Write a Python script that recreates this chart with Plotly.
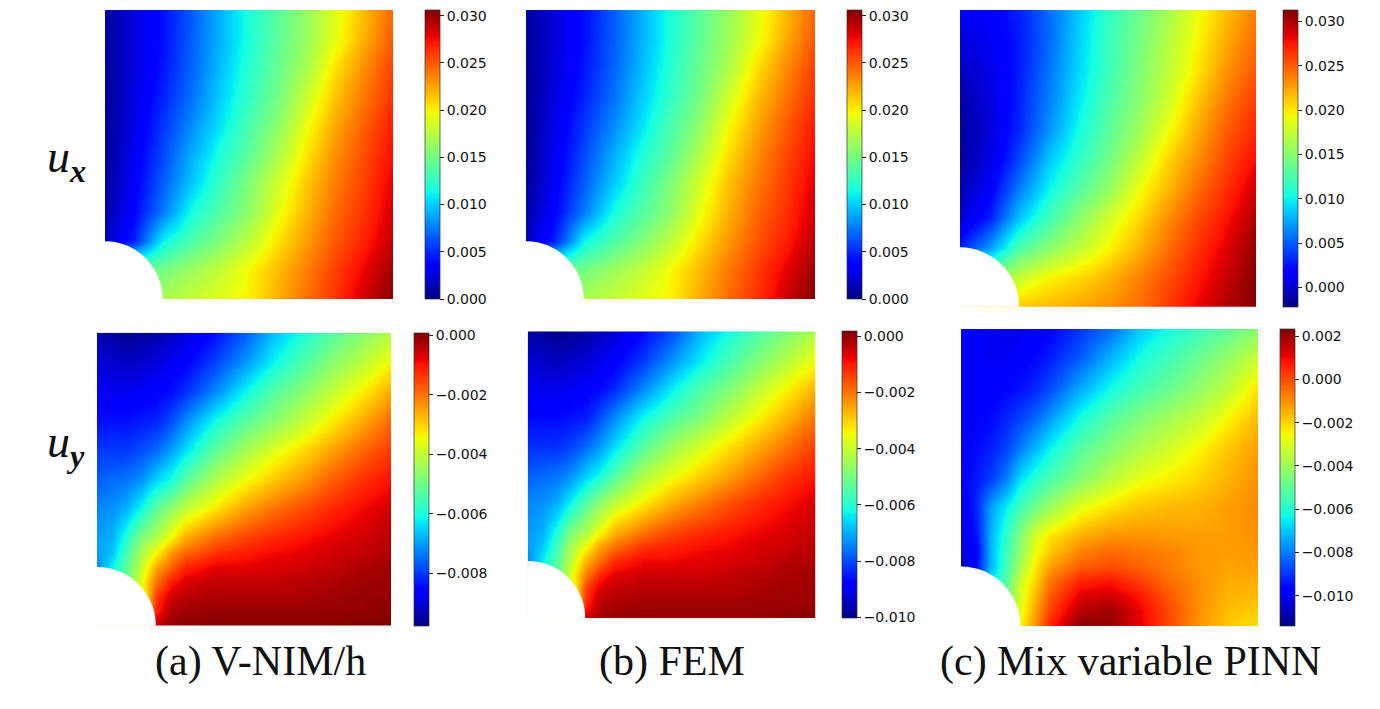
import numpy as np
import plotly.graph_objects as go

W, H = 1380, 709

# Field samples (rows top to bottom, columns left to right), units of 1e-4
grid_ux = [0.0, 0.1, 0.2, 0.3, 0.4, 0.5, 0.6, 0.7, 0.8, 0.9, 1.0]
grid_uy_x = [0.0, 0.05, 0.1, 0.15, 0.2, 0.25, 0.3, 0.4, 0.5, 0.6, 0.7, 0.8, 0.9, 1.0]
grid_uy_y = [0.0, 0.1, 0.2, 0.3, 0.4, 0.5, 0.6, 0.7, 0.75, 0.8, 0.85, 0.9, 0.95, 1.0]

ux_vnim = [
 [8, 24, 42, 65, 92, 118, 140, 163, 190, 217, 245],
 [7, 24, 42, 66, 92, 118, 142, 165, 192, 222, 250],
 [6, 24, 44, 68, 95, 122, 146, 170, 205, 233, 258],
 [5, 26, 48, 72, 100, 126, 150, 183, 215, 240, 263],
 [5, 28, 54, 80, 107, 135, 160, 195, 224, 248, 270],
 [5, 31, 60, 90, 118, 142, 172, 205, 232, 254, 275],
 [7, 34, 66, 98, 128, 155, 185, 214, 238, 258, 280],
 [10, 38, 75, 115, 138, 160, 193, 220, 244, 262, 285],
 [16, 48, 112, 135, 155, 178, 205, 228, 250, 268, 290],
 [140, 150, 150, 165, 180, 198, 218, 238, 258, 278, 298],
 [160, 170, 172, 180, 190, 200, 222, 243, 262, 285, 305],
]
ux_fem = [
 [8, 24, 42, 65, 92, 118, 140, 163, 190, 218, 246],
 [7, 24, 42, 66, 92, 118, 142, 166, 193, 223, 251],
 [6, 24, 44, 68, 95, 122, 146, 171, 206, 234, 259],
 [5, 26, 48, 72, 100, 126, 150, 184, 216, 241, 264],
 [5, 28, 54, 80, 107, 135, 160, 196, 225, 249, 271],
 [5, 31, 60, 90, 118, 142, 172, 206, 233, 255, 276],
 [7, 34, 66, 98, 128, 155, 185, 215, 239, 259, 281],
 [10, 38, 75, 115, 138, 160, 193, 221, 245, 263, 286],
 [16, 48, 112, 135, 155, 178, 205, 229, 251, 269, 291],
 [140, 150, 150, 165, 180, 198, 218, 239, 259, 279, 299],
 [160, 170, 172, 180, 190, 200, 222, 244, 263, 286, 306],
]
ux_pinn = [
 [12, 16, 30, 55, 85, 115, 138, 162, 190, 215, 238],
 [5, 12, 28, 55, 88, 118, 142, 168, 195, 222, 245],
 [-2, 8, 28, 58, 90, 120, 146, 172, 200, 230, 252],
 [-10, 5, 30, 62, 95, 125, 150, 178, 212, 240, 262],
 [-14, 4, 32, 68, 103, 132, 158, 190, 222, 250, 270],
 [-13, 6, 42, 85, 113, 140, 172, 206, 232, 258, 278],
 [-8, 16, 60, 100, 128, 154, 190, 216, 244, 266, 290],
 [2, 30, 85, 122, 150, 180, 205, 232, 256, 276, 300],
 [30, 70, 125, 150, 172, 195, 218, 242, 265, 285, 308],
 [120, 150, 175, 195, 205, 218, 236, 254, 274, 292, 312],
 [180, 195, 212, 218, 224, 232, 244, 262, 282, 300, 312],
]
uy_vnim = [
 [-94, -95, -96, -95, -94, -92, -90, -84, -77, -67, -60, -53, -47, -42],
 [-90, -91, -92, -91, -90, -88, -86, -79, -71, -62, -54, -47, -41, -34],
 [-87, -88, -88, -87, -86, -84, -81, -72, -62, -53, -47, -40, -33, -26],
 [-84, -84, -84, -83, -82, -78, -72, -61, -53, -47, -40, -33, -26, -19],
 [-80, -80, -80, -78, -75, -70, -64, -52, -44, -37, -31, -25, -19, -14],
 [-76, -75, -74, -71, -65, -60, -53, -42, -35, -29, -24, -18, -13, -10],
 [-72, -71, -68, -61, -52, -46, -40, -32, -25, -20, -16, -12, -9, -6],
 [-70, -68, -59, -48, -42, -34, -26, -19, -15, -12, -10, -8, -6, -4],
 [-70, -66, -55, -43, -34, -24, -19, -13, -11, -9, -8, -6, -5, -3],
 [-72, -62, -52, -40, -26, -18, -12, -8, -8, -7, -6, -5, -3, -2],
 [-65, -60, -52, -36, -20, -11, -7, -5, -5, -5, -4, -3, -2, -1],
 [-60, -55, -50, -40, -14, -6, -4, -3, -3, -3, -3, -2, -1, -1],
 [-55, -50, -50, -40, -12, -3, -2, -1, -1, -1, -1, -1, -1, 0],
 [-50, -50, -40, -30, -4, -1, 0, 0, 0, 0, 0, 0, 1, 1],
]
uy_fem = [
 [-97, -98, -99, -98, -97, -95, -93, -87, -80, -69, -62, -55, -49, -43],
 [-93, -94, -95, -94, -93, -91, -89, -82, -73, -64, -56, -49, -42, -35],
 [-90, -91, -91, -90, -89, -87, -84, -74, -64, -55, -49, -41, -34, -27],
 [-87, -87, -87, -86, -85, -80, -74, -63, -55, -49, -41, -34, -27, -20],
 [-83, -83, -83, -81, -77, -72, -66, -54, -45, -38, -32, -26, -20, -14],
 [-78, -77, -76, -73, -67, -62, -55, -43, -36, -30, -25, -19, -13, -10],
 [-74, -73, -70, -63, -54, -47, -41, -33, -26, -21, -16, -12, -9, -6],
 [-72, -70, -61, -49, -43, -35, -27, -20, -15, -12, -10, -8, -6, -4],
 [-72, -68, -57, -44, -35, -25, -20, -13, -11, -9, -8, -6, -5, -3],
 [-74, -64, -54, -41, -27, -19, -12, -8, -8, -7, -6, -5, -3, -2],
 [-67, -62, -54, -37, -21, -11, -7, -5, -5, -5, -4, -3, -2, -1],
 [-62, -57, -52, -41, -14, -6, -4, -3, -3, -3, -3, -2, -1, -1],
 [-57, -52, -52, -41, -12, -3, -2, -1, -1, -1, -1, -1, -1, 0],
 [-52, -52, -41, -31, -4, -1, 0, 0, 0, 0, 0, 0, 1, 1],
]
uy_pinn = [
 [-97, -99, -100, -101, -101, -99, -97, -90, -82, -70, -62, -56, -50, -43],
 [-98, -99, -100, -100, -98, -96, -93, -84, -72, -62, -55, -48, -41, -32],
 [-97, -98, -98, -97, -95, -92, -87, -74, -63, -55, -49, -42, -34, -22],
 [-97, -97, -96, -92, -88, -83, -76, -62, -52, -45, -39, -33, -25, -16],
 [-97, -96, -93, -88, -80, -72, -64, -52, -44, -37, -31, -25, -18, -12],
 [-98, -94, -89, -80, -67, -60, -54, -44, -35, -28, -24, -20, -15, -10],
 [-100, -92, -75, -65, -55, -47, -40, -28, -22, -18, -16, -15, -12, -9],
 [-102, -95, -72, -58, -44, -30, -22, -14, -10, -10, -11, -12, -12, -10],
 [-103, -98, -72, -56, -42, -27, -18, -8, -4, -6, -8, -11, -12, -11],
 [-108, -95, -72, -55, -38, -23, -12, -2, 0, -3, -7, -11, -13, -12],
 [-90, -80, -65, -52, -32, -20, -6, 6, 8, 2, -5, -10, -14, -14],
 [-70, -65, -60, -48, -30, -16, -2, 12, 14, 8, -2, -10, -15, -16],
 [-55, -50, -50, -45, -28, -13, 2, 17, 20, 11, 0, -10, -17, -19],
 [-40, -40, -40, -40, -25, -10, 6, 23, 21, 12, 0, -11, -18, -22],
]

fields = [ux_vnim, ux_fem, ux_pinn, uy_vnim, uy_fem, uy_pinn]
value_scale = 1e-4
hole_radius = 0.2

# Colour limits and colourbar ticks
zmins = [0.0, 0.0, -0.0022, -0.00976, -0.01004, -0.0114]
zmaxs = [0.0306, 0.0306, 0.0313, 0.00008, 0.00018, 0.00233]
ticks_ux = [0.0, 0.005, 0.01, 0.015, 0.02, 0.025, 0.03]
ticks_uy_a = [-0.008, -0.006, -0.004, -0.002, 0.0]
ticks_uy_b = [-0.01, -0.008, -0.006, -0.004, -0.002, 0.0]
ticks_uy_c = [-0.01, -0.008, -0.006, -0.004, -0.002, 0.0, 0.002]
tick_sets = [ticks_ux, ticks_ux, ticks_ux, ticks_uy_a, ticks_uy_b, ticks_uy_c]

captions = ["(a) V-NIM/h", "(b) FEM", "(c) Mix variable PINN"]
caption_x = [260, 672, 1130]
row_labels = ["<i>u</i><sub><b><i>x</i></b></sub>", "<i>u</i><sub><b><i>y</i></b></sub>"]
row_label_y = [160, 445]

# pixel boxes: left, right, top, bottom, colourbar left
boxes = [
    (105, 393, 10, 299, 425),
    (526, 815, 10, 299, 847),
    (960, 1256, 10, 306.7, 1283),
    (97, 391, 332.7, 625.7, 414),
    (527.7, 815.3, 331.3, 618.3, 842),
    (961, 1258, 329, 626, 1280),
]

jet = [
    [0.0, "rgb(0,0,128)"], [0.11, "rgb(0,0,255)"], [0.125, "rgb(0,0,255)"],
    [0.34, "rgb(0,219,255)"], [0.35, "rgb(0,230,247)"], [0.375, "rgb(21,255,226)"],
    [0.64, "rgb(239,255,8)"], [0.65, "rgb(247,245,0)"], [0.66, "rgb(255,236,0)"],
    [0.89, "rgb(255,19,0)"], [0.91, "rgb(232,0,0)"], [1.0, "rgb(128,0,0)"],
]

fig = go.Figure()
layout = {}
shapes = []
for i, (rows, box, zmin, zmax, tv) in enumerate(zip(fields, boxes, zmins, zmaxs, tick_sets)):
    l, r, t, b, cb = box
    n = "" if i == 0 else str(i + 1)
    gx, gy = (grid_ux, grid_ux) if i < 3 else (grid_uy_x, grid_uy_y)
    fig.add_trace(go.Heatmap(
        x=gx, y=gy, z=np.array(rows) * value_scale, zmin=zmin, zmax=zmax,
        colorscale=jet, zsmooth="best", xaxis="x" + n, yaxis="y" + n,
        colorbar=dict(
            x=cb / W, xanchor="left", y=1 - t / H, yanchor="top", len=(b - t) / H, lenmode="fraction",
            thickness=15, thicknessmode="pixels", xpad=0, ypad=0,
            tickmode="array", tickvals=tv, tickformat=".3f", ticks="outside", ticklen=4, tickwidth=1,
            outlinewidth=0.7, outlinecolor="#333333", tickcolor="#222222",
            tickfont=dict(family="DejaVu Sans", size=14, color="#111111"),
        ),
    ))
    layout["xaxis" + n] = dict(domain=[l / W, r / W], range=[0, 1], visible=False, anchor="y" + n)
    layout["yaxis" + n] = dict(domain=[1 - b / H, 1 - t / H], range=[1, 0], visible=False, anchor="x" + n)
    shapes.append(dict(type="circle", xref="x" + n, yref="y" + n,
                       x0=-hole_radius, x1=hole_radius, y0=1 - hole_radius, y1=1 + hole_radius,
                       fillcolor="white", line=dict(width=0)))

annotations = []
for txt, cx in zip(captions, caption_x):
    annotations.append(dict(text=txt, x=cx / W, y=1 - 661 / H, xref="paper", yref="paper",
                            xanchor="center", yanchor="middle", showarrow=False,
                            font=dict(family="Liberation Serif", size=42, color="#111111")))
for txt, cy in zip(row_labels, row_label_y):
    annotations.append(dict(text=txt, x=66 / W, y=1 - cy / H, xref="paper", yref="paper",
                            xanchor="center", yanchor="middle", showarrow=False,
                            font=dict(family="Liberation Serif", size=46, color="#111111")))

fig.update_layout(width=W, height=H, margin=dict(l=0, r=0, t=0, b=0), autosize=False,
                  paper_bgcolor="white", plot_bgcolor="white", shapes=shapes,
                  annotations=annotations, **layout)
fig.write_html("out.html", config={"displayModeBar": False},
               post_script="document.body.style.margin='0';")
